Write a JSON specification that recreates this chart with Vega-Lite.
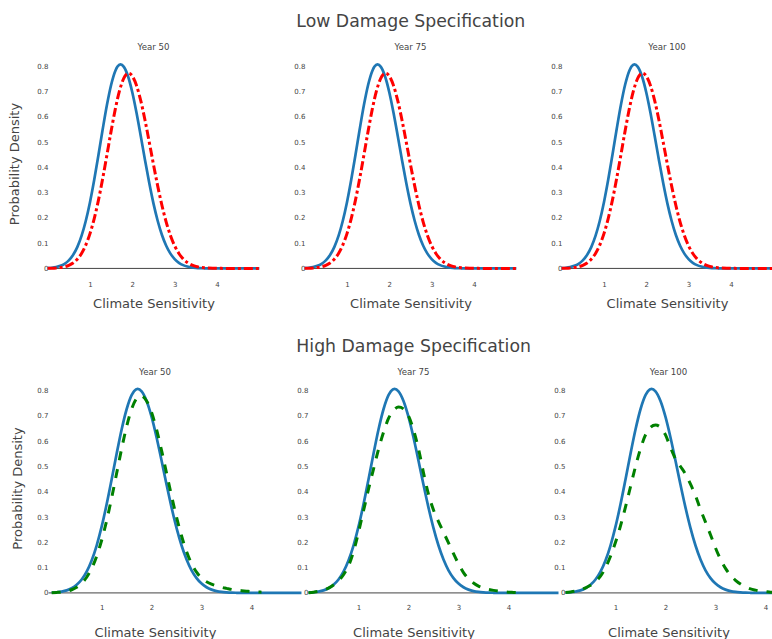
{
  "$schema": "https://vega.github.io/schema/vega-lite/v6.json",
  "autosize": {"type": "pad"},
  "padding": {"left": 7.5, "top": 13, "right": 0, "bottom": 0},
  "background": "white",
  "config": {
    "view": {"stroke": null},
    "font": "DejaVu Sans",
    "axis": {"domain": false, "ticks": false, "tickSize": 0, "grid": false, "labelFont": "DejaVu Sans", "labelFontSize": 7, "labelColor": "#444", "titleFont": "DejaVu Sans", "titleFontSize": 13, "titleFontWeight": "normal", "titleColor": "#444", "labelFlush": false, "labelOverlap": false, "tickCount": 20},
    "title": {"font": "DejaVu Sans", "fontSize": 8.6, "fontWeight": "normal", "color": "#444", "anchor": "middle", "offset": -0.7},
    "line": {"strokeWidth": 2.7, "interpolate": "monotone", "clip": true}
  },
  "datasets": {
    "base": [
      {"x": 0.0, "y": 0.0013}, {"x": 0.1, "y": 0.0027}, {"x": 0.2, "y": 0.0054}, {"x": 0.3, "y": 0.0101}, {"x": 0.4, "y": 0.0184}, {"x": 0.5, "y": 0.0319}, {"x": 0.6, "y": 0.0531}, {"x": 0.7, "y": 0.0844}, {"x": 0.8, "y": 0.1285}, {"x": 0.9, "y": 0.1875}, {"x": 1.0, "y": 0.262}, {"x": 1.1, "y": 0.3505}, {"x": 1.2, "y": 0.4488}, {"x": 1.3, "y": 0.5503}, {"x": 1.4, "y": 0.6462}, {"x": 1.5, "y": 0.7265}, {"x": 1.6, "y": 0.7822}, {"x": 1.65, "y": 0.7985}, {"x": 1.72, "y": 0.807}, {"x": 1.8, "y": 0.7973}, {"x": 1.9, "y": 0.7592}, {"x": 2.0, "y": 0.6961}, {"x": 2.1, "y": 0.6147}, {"x": 2.2, "y": 0.5227}, {"x": 2.3, "y": 0.428}, {"x": 2.4, "y": 0.3375}, {"x": 2.5, "y": 0.2563}, {"x": 2.6, "y": 0.1875}, {"x": 2.7, "y": 0.132}, {"x": 2.8, "y": 0.0895}, {"x": 2.9, "y": 0.0585}, {"x": 3.0, "y": 0.0368}, {"x": 3.1, "y": 0.0223}, {"x": 3.2, "y": 0.013}, {"x": 3.3, "y": 0.0073}, {"x": 3.4, "y": 0.0039}, {"x": 3.5, "y": 0.0021}, {"x": 3.6, "y": 0.001}, {"x": 3.7, "y": 0.0005}, {"x": 3.8, "y": 0.0002}, {"x": 3.9, "y": 0.0001}, {"x": 4.0, "y": 0}, {"x": 4.2, "y": 0}, {"x": 4.4, "y": 0}, {"x": 4.6, "y": 0}, {"x": 4.8, "y": 0}, {"x": 5.0, "y": 0}
    ],
    "low": [
      {"x": 0.0, "y": 0.0004}, {"x": 0.1, "y": 0.0008}, {"x": 0.2, "y": 0.0018}, {"x": 0.3, "y": 0.0035}, {"x": 0.4, "y": 0.0067}, {"x": 0.5, "y": 0.0123}, {"x": 0.6, "y": 0.0216}, {"x": 0.7, "y": 0.0366}, {"x": 0.8, "y": 0.0593}, {"x": 0.9, "y": 0.0923}, {"x": 1.0, "y": 0.1376}, {"x": 1.1, "y": 0.197}, {"x": 1.2, "y": 0.2702}, {"x": 1.3, "y": 0.3557}, {"x": 1.4, "y": 0.4491}, {"x": 1.5, "y": 0.544}, {"x": 1.6, "y": 0.632}, {"x": 1.7, "y": 0.7043}, {"x": 1.8, "y": 0.7528}, {"x": 1.85, "y": 0.7662}, {"x": 1.91, "y": 0.772}, {"x": 1.95, "y": 0.7698}, {"x": 2.0, "y": 0.7607}, {"x": 2.1, "y": 0.723}, {"x": 2.2, "y": 0.6628}, {"x": 2.3, "y": 0.5859}, {"x": 2.4, "y": 0.4994}, {"x": 2.5, "y": 0.4105}, {"x": 2.6, "y": 0.3255}, {"x": 2.7, "y": 0.2488}, {"x": 2.8, "y": 0.1835}, {"x": 2.9, "y": 0.1305}, {"x": 3.0, "y": 0.0895}, {"x": 3.1, "y": 0.0591}, {"x": 3.2, "y": 0.0377}, {"x": 3.3, "y": 0.0232}, {"x": 3.4, "y": 0.0138}, {"x": 3.5, "y": 0.0079}, {"x": 3.6, "y": 0.0043}, {"x": 3.7, "y": 0.0023}, {"x": 3.8, "y": 0.0012}, {"x": 3.9, "y": 0.0006}, {"x": 4.0, "y": 0.0003}, {"x": 4.2, "y": 0.0001}, {"x": 4.4, "y": 0}, {"x": 4.6, "y": 0}, {"x": 4.8, "y": 0}, {"x": 5.0, "y": 0}
    ],
    "h50": [
      {"x": 0.0, "y": 0.001}, {"x": 0.1, "y": 0.002}, {"x": 0.2, "y": 0.0035}, {"x": 0.3, "y": 0.0067}, {"x": 0.4, "y": 0.0125}, {"x": 0.5, "y": 0.0223}, {"x": 0.6, "y": 0.038}, {"x": 0.7, "y": 0.0621}, {"x": 0.8, "y": 0.097}, {"x": 0.9, "y": 0.1453}, {"x": 1.0, "y": 0.2083}, {"x": 1.1, "y": 0.286}, {"x": 1.2, "y": 0.3759}, {"x": 1.3, "y": 0.4731}, {"x": 1.4, "y": 0.5702}, {"x": 1.5, "y": 0.658}, {"x": 1.6, "y": 0.727}, {"x": 1.7, "y": 0.7692}, {"x": 1.78, "y": 0.78}, {"x": 1.9, "y": 0.7595}, {"x": 2.0, "y": 0.7132}, {"x": 2.1, "y": 0.6454}, {"x": 2.2, "y": 0.5629}, {"x": 2.3, "y": 0.4731}, {"x": 2.4, "y": 0.3832}, {"x": 2.5, "y": 0.299}, {"x": 2.6, "y": 0.225}, {"x": 2.7, "y": 0.1631}, {"x": 2.8, "y": 0.116}, {"x": 2.9, "y": 0.082}, {"x": 3.0, "y": 0.058}, {"x": 3.1, "y": 0.044}, {"x": 3.2, "y": 0.035}, {"x": 3.3, "y": 0.028}, {"x": 3.4, "y": 0.022}, {"x": 3.5, "y": 0.018}, {"x": 3.6, "y": 0.014}, {"x": 3.7, "y": 0.011}, {"x": 3.8, "y": 0.009}, {"x": 3.9, "y": 0.007}, {"x": 4.0, "y": 0.005}, {"x": 4.1, "y": 0.004}, {"x": 4.2, "y": 0.003}
    ],
    "h75": [
      {"x": 0.0, "y": 0.001}, {"x": 0.1, "y": 0.003}, {"x": 0.2, "y": 0.006}, {"x": 0.3, "y": 0.011}, {"x": 0.4, "y": 0.019}, {"x": 0.5, "y": 0.031}, {"x": 0.6, "y": 0.048}, {"x": 0.7, "y": 0.072}, {"x": 0.8, "y": 0.107}, {"x": 0.9, "y": 0.163}, {"x": 1.0, "y": 0.24}, {"x": 1.1, "y": 0.325}, {"x": 1.2, "y": 0.41}, {"x": 1.3, "y": 0.49}, {"x": 1.4, "y": 0.568}, {"x": 1.5, "y": 0.635}, {"x": 1.6, "y": 0.69}, {"x": 1.7, "y": 0.722}, {"x": 1.8, "y": 0.735}, {"x": 1.9, "y": 0.728}, {"x": 2.0, "y": 0.7}, {"x": 2.1, "y": 0.645}, {"x": 2.2, "y": 0.57}, {"x": 2.3, "y": 0.475}, {"x": 2.4, "y": 0.39}, {"x": 2.5, "y": 0.328}, {"x": 2.6, "y": 0.282}, {"x": 2.7, "y": 0.24}, {"x": 2.8, "y": 0.198}, {"x": 2.9, "y": 0.155}, {"x": 3.0, "y": 0.115}, {"x": 3.1, "y": 0.08}, {"x": 3.2, "y": 0.056}, {"x": 3.3, "y": 0.039}, {"x": 3.4, "y": 0.027}, {"x": 3.5, "y": 0.019}, {"x": 3.6, "y": 0.014}, {"x": 3.7, "y": 0.01}, {"x": 3.8, "y": 0.007}, {"x": 3.9, "y": 0.005}, {"x": 4.0, "y": 0.003}, {"x": 4.1, "y": 0.002}, {"x": 4.2, "y": 0.001}
    ],
    "h100": [
      {"x": 0.0, "y": 0.002}, {"x": 0.1, "y": 0.004}, {"x": 0.2, "y": 0.007}, {"x": 0.3, "y": 0.012}, {"x": 0.4, "y": 0.02}, {"x": 0.5, "y": 0.03}, {"x": 0.6, "y": 0.045}, {"x": 0.7, "y": 0.066}, {"x": 0.8, "y": 0.1}, {"x": 0.9, "y": 0.145}, {"x": 1.0, "y": 0.2}, {"x": 1.1, "y": 0.265}, {"x": 1.2, "y": 0.34}, {"x": 1.3, "y": 0.42}, {"x": 1.4, "y": 0.5}, {"x": 1.5, "y": 0.57}, {"x": 1.6, "y": 0.625}, {"x": 1.7, "y": 0.655}, {"x": 1.8, "y": 0.664}, {"x": 1.9, "y": 0.655}, {"x": 2.0, "y": 0.625}, {"x": 2.1, "y": 0.575}, {"x": 2.2, "y": 0.53}, {"x": 2.3, "y": 0.5}, {"x": 2.4, "y": 0.47}, {"x": 2.5, "y": 0.43}, {"x": 2.6, "y": 0.385}, {"x": 2.7, "y": 0.33}, {"x": 2.8, "y": 0.28}, {"x": 2.9, "y": 0.23}, {"x": 3.0, "y": 0.178}, {"x": 3.1, "y": 0.133}, {"x": 3.2, "y": 0.097}, {"x": 3.3, "y": 0.07}, {"x": 3.4, "y": 0.05}, {"x": 3.5, "y": 0.035}, {"x": 3.6, "y": 0.024}, {"x": 3.7, "y": 0.016}, {"x": 3.8, "y": 0.011}, {"x": 3.9, "y": 0.007}, {"x": 4.0, "y": 0.005}, {"x": 4.1, "y": 0.003}, {"x": 4.2, "y": 0.002}
    ]
  },
  "bounds": "flush",
  "spacing": 324.5,
  "vconcat": [
    {
      "title": {"text": "Low Damage Specification", "fontSize": 17.3, "offset": 12.7, "frame": "bounds", "anchor": "middle", "dx": 17},
      "bounds": "flush",
      "spacing": 47,
      "hconcat": [
        {
          "width": 210, "height": 225, "title": "Year 50",
          "layer": [
            {"data": {"values": [{}]}, "mark": {"type": "rule", "color": "#444", "strokeWidth": 1}, "encoding": {"y": {"datum": 0, "type": "quantitative"}}},
            {"data": {"name": "base"}, "mark": {"type": "line", "color": "#1f77b4"}, "encoding": {"x": {"field": "x", "type": "quantitative", "scale": {"domain": [0.02, 4.98], "nice": false, "zero": false}, "axis": {"values": [1, 2, 3, 4], "format": "d", "tickCount": 20, "labelOverlap": false, "labelPadding": 4.5, "title": "Climate Sensitivity", "titlePadding": 9.5}}, "y": {"field": "y", "type": "quantitative", "scale": {"domain": [-0.03, 0.86], "nice": false, "zero": false}, "axis": {"values": [0, 0.1, 0.2, 0.3, 0.4, 0.5, 0.6, 0.7, 0.8], "format": "~g", "tickCount": 20, "labelOverlap": false, "labelPadding": 0.5, "title": "Probability Density", "titlePadding": 15.5}}}},
            {"data": {"name": "low"}, "mark": {"type": "line", "color": "#ff0000", "strokeWidth": 3, "strokeDash": [9, 3, 3, 3]}, "encoding": {"x": {"field": "x", "type": "quantitative"}, "y": {"field": "y", "type": "quantitative"}}}
          ]
        },
        {
          "width": 210, "height": 225, "title": "Year 75",
          "layer": [
            {"data": {"values": [{}]}, "mark": {"type": "rule", "color": "#444", "strokeWidth": 1}, "encoding": {"y": {"datum": 0, "type": "quantitative"}}},
            {"data": {"name": "base"}, "mark": {"type": "line", "color": "#1f77b4"}, "encoding": {"x": {"field": "x", "type": "quantitative", "scale": {"domain": [0.02, 4.98], "nice": false, "zero": false}, "axis": {"values": [1, 2, 3, 4], "format": "d", "tickCount": 20, "labelOverlap": false, "labelPadding": 4.5, "title": "Climate Sensitivity", "titlePadding": 9.5}}, "y": {"field": "y", "type": "quantitative", "scale": {"domain": [-0.03, 0.86], "nice": false, "zero": false}, "axis": {"values": [0, 0.1, 0.2, 0.3, 0.4, 0.5, 0.6, 0.7, 0.8], "format": "~g", "tickCount": 20, "labelOverlap": false, "labelPadding": 0.5, "title": null}}}},
            {"data": {"name": "low"}, "mark": {"type": "line", "color": "#ff0000", "strokeWidth": 3, "strokeDash": [9, 3, 3, 3]}, "encoding": {"x": {"field": "x", "type": "quantitative"}, "y": {"field": "y", "type": "quantitative"}}}
          ]
        },
        {
          "width": 209, "height": 225, "title": "Year 100",
          "layer": [
            {"data": {"values": [{}]}, "mark": {"type": "rule", "color": "#444", "strokeWidth": 1}, "encoding": {"y": {"datum": 0, "type": "quantitative"}}},
            {"data": {"name": "base"}, "mark": {"type": "line", "color": "#1f77b4"}, "encoding": {"x": {"field": "x", "type": "quantitative", "scale": {"domain": [0.02, 4.96], "nice": false, "zero": false}, "axis": {"values": [1, 2, 3, 4], "format": "d", "tickCount": 20, "labelOverlap": false, "labelPadding": 4.5, "title": "Climate Sensitivity", "titlePadding": 9.5}}, "y": {"field": "y", "type": "quantitative", "scale": {"domain": [-0.03, 0.86], "nice": false, "zero": false}, "axis": {"values": [0, 0.1, 0.2, 0.3, 0.4, 0.5, 0.6, 0.7, 0.8], "format": "~g", "tickCount": 20, "labelOverlap": false, "labelPadding": 0.5, "title": null}}}},
            {"data": {"name": "low"}, "mark": {"type": "line", "color": "#ff0000", "strokeWidth": 3, "strokeDash": [9, 3, 3, 3]}, "encoding": {"x": {"field": "x", "type": "quantitative"}, "y": {"field": "y", "type": "quantitative"}}}
          ]
        }
      ]
    },
    {
      "title": {"text": "High Damage Specification", "fontSize": 17.3, "offset": 12.7, "frame": "bounds", "anchor": "middle", "dx": -2.5},
      "bounds": "flush",
      "spacing": 47,
      "hconcat": [
        {
          "width": 213, "height": 225, "title": "Year 50",
          "layer": [
            {"data": {"values": [{}]}, "mark": {"type": "rule", "color": "#444", "strokeWidth": 1}, "encoding": {"y": {"datum": 0, "type": "quantitative"}}},
            {"data": {"name": "base"}, "mark": {"type": "line", "color": "#1f77b4"}, "encoding": {"x": {"field": "x", "type": "quantitative", "scale": {"domain": [-0.064, 4.2], "nice": false, "zero": false}, "axis": {"values": [1, 2, 3, 4], "format": "d", "tickCount": 20, "labelOverlap": false, "labelPadding": 2.5, "title": "Climate Sensitivity", "titlePadding": 16.5}}, "y": {"field": "y", "type": "quantitative", "scale": {"domain": [-0.03, 0.86], "nice": false, "zero": false}, "axis": {"values": [0, 0.1, 0.2, 0.3, 0.4, 0.5, 0.6, 0.7, 0.8], "format": "~g", "tickCount": 20, "labelOverlap": false, "labelPadding": 0.5, "title": "Probability Density", "titlePadding": 12.5}}}},
            {"data": {"name": "h50"}, "mark": {"type": "line", "color": "#008000", "strokeWidth": 3, "strokeDash": [9, 9]}, "encoding": {"x": {"field": "x", "type": "quantitative"}, "y": {"field": "y", "type": "quantitative"}}}
          ]
        },
        {
          "width": 210, "height": 225, "title": "Year 75",
          "layer": [
            {"data": {"values": [{}]}, "mark": {"type": "rule", "color": "#444", "strokeWidth": 1}, "encoding": {"y": {"datum": 0, "type": "quantitative"}}},
            {"data": {"name": "base"}, "mark": {"type": "line", "color": "#1f77b4"}, "encoding": {"x": {"field": "x", "type": "quantitative", "scale": {"domain": [0, 4.2], "nice": false, "zero": false}, "axis": {"values": [1, 2, 3, 4], "format": "d", "tickCount": 20, "labelOverlap": false, "labelPadding": 2.5, "title": "Climate Sensitivity", "titlePadding": 16.5}}, "y": {"field": "y", "type": "quantitative", "scale": {"domain": [-0.03, 0.86], "nice": false, "zero": false}, "axis": {"values": [0, 0.1, 0.2, 0.3, 0.4, 0.5, 0.6, 0.7, 0.8], "format": "~g", "tickCount": 20, "labelOverlap": false, "labelPadding": 0.5, "title": null}}}},
            {"data": {"name": "h75"}, "mark": {"type": "line", "color": "#008000", "strokeWidth": 3, "strokeDash": [9, 9]}, "encoding": {"x": {"field": "x", "type": "quantitative"}, "y": {"field": "y", "type": "quantitative"}}}
          ]
        },
        {
          "width": 206, "height": 225, "title": "Year 100",
          "layer": [
            {"data": {"values": [{}]}, "mark": {"type": "rule", "color": "#444", "strokeWidth": 1}, "encoding": {"y": {"datum": 0, "type": "quantitative"}}},
            {"data": {"name": "base"}, "mark": {"type": "line", "color": "#1f77b4"}, "encoding": {"x": {"field": "x", "type": "quantitative", "scale": {"domain": [0, 4.12], "nice": false, "zero": false}, "axis": {"values": [1, 2, 3, 4], "format": "d", "tickCount": 20, "labelOverlap": false, "labelPadding": 2.5, "title": "Climate Sensitivity", "titlePadding": 16.5}}, "y": {"field": "y", "type": "quantitative", "scale": {"domain": [-0.03, 0.86], "nice": false, "zero": false}, "axis": {"values": [0, 0.1, 0.2, 0.3, 0.4, 0.5, 0.6, 0.7, 0.8], "format": "~g", "tickCount": 20, "labelOverlap": false, "labelPadding": 0.5, "title": null}}}},
            {"data": {"name": "h100"}, "mark": {"type": "line", "color": "#008000", "strokeWidth": 3, "strokeDash": [9, 9]}, "encoding": {"x": {"field": "x", "type": "quantitative"}, "y": {"field": "y", "type": "quantitative"}}}
          ]
        }
      ]
    }
  ]
}
